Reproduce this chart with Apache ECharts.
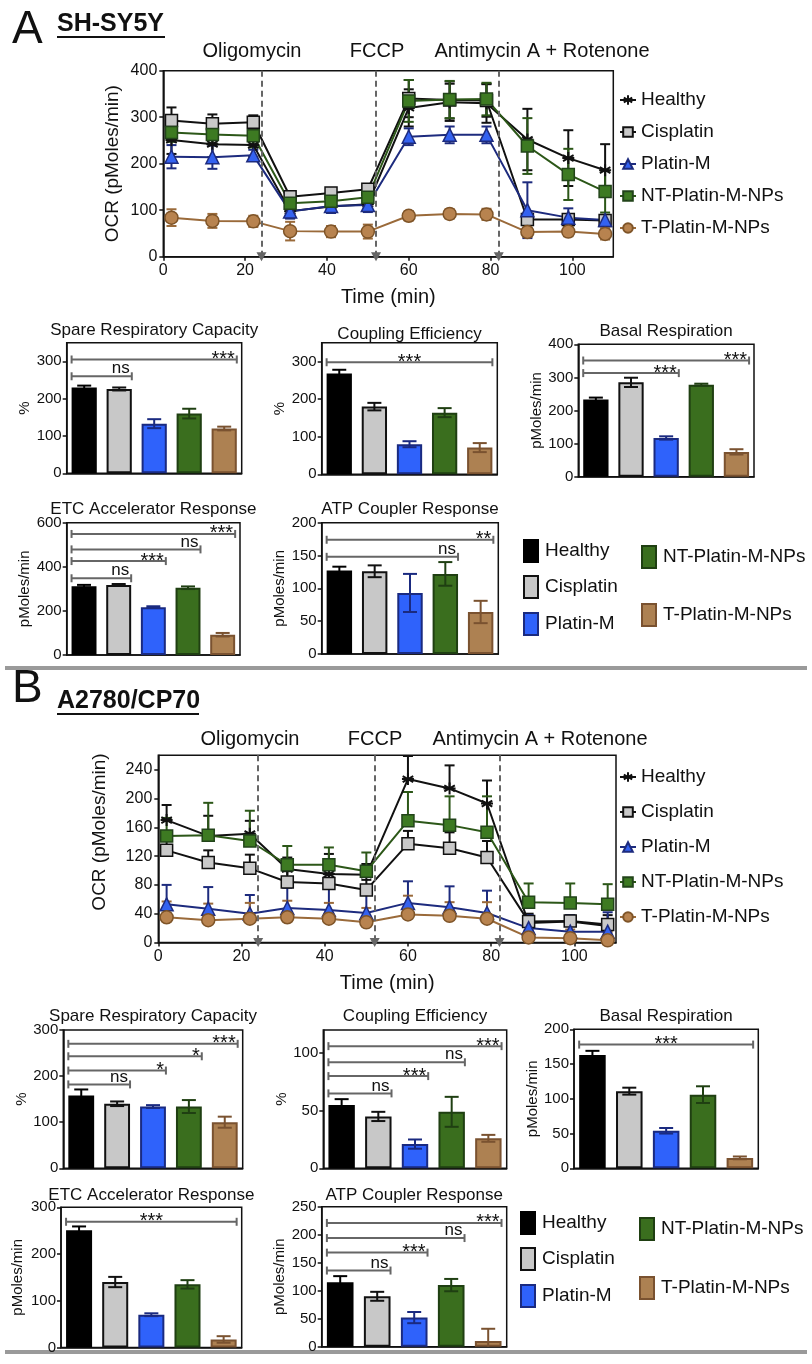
<!DOCTYPE html>
<html><head><meta charset="utf-8">
<script src="https://cdn.jsdelivr.net/npm/echarts@6/dist/echarts.min.js"></script>
<style>html,body{margin:0;padding:0;background:#fff}#c{width:812px;height:1364px}</style>
</head><body><div id="c"></div>
<script>
// ---------------- DATA ----------------
const groups = ['Healthy', 'Cisplatin', 'Platin-M', 'NT-Platin-M-NPs', 'T-Platin-M-NPs'];
const times = [2, 12, 22, 31, 41, 50, 60, 70, 79, 89, 99, 108];
const timeTicks = [0, 20, 40, 60, 80, 100];
const injections = [24, 52, 82];
const injectionLabels = ['Oligomycin', 'FCCP', 'Antimycin A + Rotenone'];

// Panel A (SH-SY5Y) OCR
const ocrTicksA = [0, 100, 200, 300, 400];
const A_healthy = [251, 242, 240, 98, 108, 113, 320, 332, 330, 252, 212, 186];
const A_healthy_err = [30, 28, 25, 15, 12, 12, 40, 40, 42, 66, 60, 56];
const A_cis = [293, 286, 289, 129, 137, 145, 340, 337, 336, 80, 80, 78];
const A_cis_err = [28, 20, 15, 8, 8, 8, 40, 40, 35, 8, 6, 6];
const A_plat = [215, 214, 218, 97, 109, 111, 258, 262, 262, 100, 84, 79];
const A_plat_err = [25, 25, 12, 15, 15, 15, 18, 18, 18, 60, 20, 10];
const A_nt = [267, 263, 260, 115, 119, 128, 335, 338, 339, 238, 177, 140];
const A_nt_err = [20, 20, 25, 15, 15, 15, 45, 40, 35, 60, 55, 45];
const A_t = [84, 77, 76, 55, 54, 54, 88, 92, 91, 53, 54, 49];
const A_t_err = [18, 15, 12, 20, 12, 15, 10, 10, 12, 10, 10, 12];

// Panel B (A2780/CP70) OCR
const ocrTicksB = [0, 40, 80, 120, 160, 200, 240];
const B_healthy = [170, 148, 151, 102, 95, 94, 227, 214, 193, 27, 29, 23];
const B_healthy_err = [21, 28, 18, 16, 28, 15, 32, 32, 32, 13, 9, 15];
const B_cis = [128, 111, 103, 84, 82, 73, 137, 131, 118, 29, 30, 25];
const B_cis_err = [13, 17, 19, 15, 13, 14, 18, 22, 23, 6, 6, 6];
const B_plat = [53, 47, 40, 48, 45, 41, 55, 49, 41, 20, 15, 15];
const B_plat_err = [27, 30, 26, 28, 30, 28, 30, 29, 31, 18, 23, 27];
const B_nt = [148, 149, 141, 108, 108, 99, 169, 163, 153, 56, 55, 53];
const B_nt_err = [25, 45, 42, 26, 24, 26, 40, 40, 50, 26, 27, 28];
const B_t = [35, 31, 33, 35, 33, 28, 39, 37, 33, 7, 6, 3];
const B_t_err = [22, 23, 22, 23, 22, 20, 26, 19, 23, 10, 12, 12];

// Bar panels: values, errors, significance [from, to, level, label], y ticks
const A_src = [230, 226, 133, 160, 120], A_src_err = [5, 4, 12, 13, 5];
const A_src_sig = [[0, 1, 260, 'ns'], [0, 4, 305, '***']];
const A_src_ticks = [0, 100, 200, 300];
const A_ce = [268, 180, 80, 164, 71], A_ce_err = [10, 10, 8, 12, 12];
const A_ce_sig = [[0, 4, 298, '***']];
const A_ce_ticks = [0, 100, 200, 300];
const A_basal = [233, 285, 117, 278, 75], A_basal_err = [6, 14, 5, 3, 8];
const A_basal_sig = [[0, 2, 313, '***'], [0, 4, 351, '***']];
const A_basal_ticks = [0, 100, 200, 300, 400];
const A_etc = [312, 318, 217, 305, 92], A_etc_err = [6, 4, 4, 6, 8];
const A_etc_sig = [[0, 1, 348, 'ns'], [0, 2, 426, '***'], [0, 3, 479, 'ns'], [0, 4, 549, '***']];
const A_etc_ticks = [0, 200, 400, 600];
const A_atp = [127, 126, 93, 122, 64], A_atp_err = [6, 9, 29, 18, 17];
const A_atp_sig = [[0, 3, 148, 'ns'], [0, 4, 174, '**']];
const A_atp_ticks = [0, 50, 100, 150, 200];

const B_src = [158, 140, 134, 134, 100], B_src_err = [13, 5, 3, 14, 12];
const B_src_sig = [[0, 1, 182, 'ns'], [0, 2, 212, '*'], [0, 3, 243, '*'], [0, 4, 270, '***']];
const B_src_ticks = [0, 100, 200, 300];
const B_ce = [55, 45, 21, 49, 26], B_ce_err = [5, 4, 4, 13, 3];
const B_ce_sig = [[0, 1, 65, 'ns'], [0, 2, 80, '***'], [0, 3, 92, 'ns'], [0, 4, 106, '***']];
const B_ce_ticks = [0, 50, 100];
const B_basal = [163, 111, 54, 106, 15], B_basal_err = [6, 5, 4, 12, 2];
const B_basal_sig = [[0, 4, 178, '***']];
const B_basal_ticks = [0, 50, 100, 150, 200];
const B_etc = [251, 140, 70, 135, 17], B_etc_err = [8, 11, 3, 9, 7];
const B_etc_sig = [[0, 4, 269, '***']];
const B_etc_ticks = [0, 100, 200, 300];
const B_atp = [115, 90, 52, 110, 10], B_atp_err = [11, 8, 10, 11, 22];
const B_atp_sig = [[0, 1, 136, 'ns'], [0, 2, 168, '***'], [0, 3, 194, 'ns'], [0, 4, 221, '***']];
const B_atp_ticks = [0, 50, 100, 150, 200, 250];

// ---------------- STYLE ----------------
const FONT = '"Liberation Sans", Arial, Helvetica, sans-serif';
const INK = '#111';
const ASTERISK = 'path://M5,0L5,10M0.6,2.5L9.4,7.5M9.4,2.5L0.6,7.5M0,5L10,5';
const lineColor = ['#111', '#111', '#1d2b7e', '#2c5718', '#9a6a3a'];
const symFill = ['#111', '#c9c9c9', '#3462f0', '#3d7a22', '#b8834f'];
const symEdge = ['#111', '#111', '#1d2b7e', '#22441a', '#7e5428'];
const symbols = [ASTERISK, 'rect', 'triangle', 'rect', 'circle'];
const symSize = [12, 12, 13, 12, 13];
const barFill = ['#000000', '#c8c8c8', '#2f62fb', '#3a6e1e', '#ad8152'];
const barEdge = ['#000000', '#111111', '#1a2a80', '#1f3f12', '#7a5230'];
const BAR_FRAC = 0.72;

const grids = [], xAxes = [], yAxes = [], series = [], graphics = [];

function addGrid(r) {
  grids.push({left: r[0], top: r[1], width: r[2], height: r[3], show: true,
    borderColor: INK, borderWidth: 1.5, containLabel: false, outerBoundsMode: 'none'});
  return grids.length - 1;
}
function axisBase() {
  return {axisLine: {show: true, onZero: false, lineStyle: {color: INK, width: 1.5}},
          splitLine: {show: false}};
}
function txt(text, x, y, size, opts) {
  opts = opts || {};
  return {type: 'text', x: x, y: y, rotation: opts.rotation || 0, silent: true,
    style: {text: text, fill: INK, fontSize: size, fontFamily: FONT, fontWeight: opts.weight || 'normal',
      align: opts.align || 'center', textAlign: opts.align || 'center',
      verticalAlign: opts.valign || 'middle', textVerticalAlign: opts.valign || 'middle'}};
}

function lineChart(rect, yMax, yTicks, vals, errs, errMode) {
  const g = addGrid(rect);
  xAxes.push(Object.assign(axisBase(), {gridIndex: g, type: 'value', min: 0, max: 110, interval: 20,
    axisTick: {show: true, length: 4, customValues: timeTicks, lineStyle: {color: INK, width: 1.5}},
    axisLabel: {customValues: timeTicks, fontSize: 16, color: INK, fontFamily: FONT, margin: 6},
    name: 'Time (min)', nameLocation: 'middle', nameGap: 31,
    nameTextStyle: {fontSize: 20, color: INK, fontFamily: FONT}}));
  yAxes.push(Object.assign(axisBase(), {gridIndex: g, type: 'value', min: 0, max: yMax,
    interval: yTicks[1] - yTicks[0],
    axisTick: {show: true, length: 4, customValues: yTicks, lineStyle: {color: INK, width: 1.5}},
    axisLabel: {customValues: yTicks, fontSize: 16, color: INK, fontFamily: FONT, margin: 6}}));
  // injection markers
  series.push({type: 'line', xAxisIndex: g, yAxisIndex: g, data: [], z: 1, silent: true,
    markLine: {silent: true, symbol: ['none', 'triangle'], symbolSize: [10, 9],
      label: {show: false}, lineStyle: {color: '#666', width: 2, type: [6, 4]},
      itemStyle: {color: '#666'},
      data: injections.map(x => [{coord: [x, yMax]}, {coord: [x, 0]}])}});
  vals.forEach((v, k) => {
    const col = lineColor[k];
    series.push({type: 'custom', xAxisIndex: g, yAxisIndex: g, z: 2, silent: true, clip: false,
      encode: {x: 0, y: 1},
      data: times.map((t, i) => [t, v[i], errs[k][i]]),
      renderItem: function (params, api) {
        const x = api.value(0), y = api.value(1), e = api.value(2);
        const top = api.coord([x, y + e]);
        const bot = api.coord([x, errMode === 'both' ? y - e : y]);
        const w = 5, st = {stroke: col, lineWidth: 2};
        const ch = [
          {type: 'line', shape: {x1: top[0], y1: top[1], x2: bot[0], y2: bot[1]}, style: st},
          {type: 'line', shape: {x1: top[0] - w, y1: top[1], x2: top[0] + w, y2: top[1]}, style: st}];
        if (errMode === 'both') ch.push({type: 'line', shape: {x1: bot[0] - w, y1: bot[1], x2: bot[0] + w, y2: bot[1]}, style: st});
        return {type: 'group', children: ch};
      }});
    series.push({type: 'line', name: groups[k], xAxisIndex: g, yAxisIndex: g, z: 3,
      data: times.map((t, i) => [t, v[i]]),
      symbol: symbols[k], symbolSize: symSize[k], showAllSymbol: true,
      lineStyle: {color: col, width: 2},
      itemStyle: {color: symFill[k], borderColor: symEdge[k], borderWidth: k === 0 ? 2 : 1.5}});
  });
}

function barChart(rect, ticks, yMax, vals, errs, sig, title, titleY, yName, nameGap) {
  const g = addGrid(rect);
  xAxes.push(Object.assign(axisBase(), {gridIndex: g, type: 'category', data: groups,
    axisTick: {show: false}, axisLabel: {show: false}}));
  yAxes.push(Object.assign(axisBase(), {gridIndex: g, type: 'value', min: 0, max: yMax,
    interval: ticks[1] - ticks[0],
    axisTick: {show: true, length: 4, customValues: ticks, lineStyle: {color: INK, width: 1.5}},
    axisLabel: {customValues: ticks, fontSize: 15, color: INK, fontFamily: FONT, margin: 5},
    name: yName, nameLocation: 'middle', nameGap: nameGap,
    nameTextStyle: {fontSize: 15, color: INK, fontFamily: FONT}}));
  series.push({type: 'bar', xAxisIndex: g, yAxisIndex: g, barWidth: (BAR_FRAC * 100) + '%', z: 2, silent: true,
    data: vals.map((v, i) => ({value: v, itemStyle: {color: barFill[i], borderColor: barEdge[i], borderWidth: 2}}))});
  series.push({type: 'custom', xAxisIndex: g, yAxisIndex: g, z: 3, silent: true, clip: false,
    encode: {x: 0, y: 1},
    data: vals.map((v, i) => [i, v, errs[i]]),
    renderItem: function (params, api) {
      const i = api.value(0), v = api.value(1), e = api.value(2);
      const top = api.coord([i, v + e]), bot = api.coord([i, Math.max(v - e, 0)]);
      const w = 7, st = {stroke: barEdge[params.dataIndex], lineWidth: 2};
      const ch = [
        {type: 'line', shape: {x1: top[0], y1: top[1], x2: bot[0], y2: bot[1]}, style: st},
        {type: 'line', shape: {x1: top[0] - w, y1: top[1], x2: top[0] + w, y2: top[1]}, style: st}];
      if (v - e > 0) ch.push({type: 'line', shape: {x1: bot[0] - w, y1: bot[1], x2: bot[0] + w, y2: bot[1]}, style: st});
      return {type: 'group', children: ch};
    }});
  const single = sig.length === 1;
  series.push({type: 'custom', xAxisIndex: g, yAxisIndex: g, z: 4, silent: true, clip: false,
    encode: {x: 0, y: 1},
    data: sig.map(s => [s[0], s[2], s[1]]),
    renderItem: function (params, api) {
      const s = sig[params.dataIndex];
      const half = api.size([1, 0])[0] * BAR_FRAC / 2;
      const p1 = api.coord([s[0], s[2]]), p2 = api.coord([s[1], s[2]]);
      const x1 = p1[0] - half, x2 = p2[0] + half, y = p1[1];
      const st = {stroke: '#666', lineWidth: 2};
      const star = s[3].indexOf('*') >= 0;
      return {type: 'group', children: [
        {type: 'line', shape: {x1: x1, y1: y, x2: x2, y2: y}, style: st},
        {type: 'line', shape: {x1: x1, y1: y - 4, x2: x1, y2: y + 4}, style: st},
        {type: 'line', shape: {x1: x2, y1: y - 4, x2: x2, y2: y + 4}, style: st},
        {type: 'text', style: {text: s[3], x: single ? (x1 + x2) / 2 : x2 - 2, y: y + (star ? 10 : 1),
          align: single ? 'center' : 'right', verticalAlign: 'bottom',
          fontSize: star ? 20 : 17, fontFamily: FONT, fill: INK}}]};
    }});
  graphics.push(txt(title, rect[0] + rect[2] / 2, titleY, 17));
}

// ---------------- LAYOUT ----------------
lineChart([163.3, 70.7, 450, 186], 400, ocrTicksA,
  [A_healthy, A_cis, A_plat, A_nt, A_t], [A_healthy_err, A_cis_err, A_plat_err, A_nt_err, A_t_err], 'both');
lineChart([158.3, 755.3, 457.7, 187.2], 260, ocrTicksB,
  [B_healthy, B_cis, B_plat, B_nt, B_t], [B_healthy_err, B_cis_err, B_plat_err, B_nt_err, B_t_err], 'up');

barChart([66.7, 342.7, 175, 130.6], A_src_ticks, 350, A_src, A_src_err, A_src_sig, 'Spare Respiratory Capacity', 330, '%', 34);
barChart([321.7, 342.7, 175.6, 131.6], A_ce_ticks, 350, A_ce, A_ce_err, A_ce_sig, 'Coupling Efficiency', 334, '%', 31);
barChart([578.3, 344.3, 175.7, 132.4], A_basal_ticks, 400, A_basal, A_basal_err, A_basal_sig, 'Basal Respiration', 331, 'pMoles/min', 31);
barChart([66.7, 522.7, 173.3, 132.3], A_etc_ticks, 600, A_etc, A_etc_err, A_etc_sig, 'ETC Accelerator Response', 509, 'pMoles/min', 34);
barChart([321.7, 522.7, 176.6, 131.3], A_atp_ticks, 200, A_atp, A_atp_err, A_atp_sig, 'ATP Coupler Response', 509, 'pMoles/min', 30);

barChart([63.3, 1030, 179.4, 138.3], B_src_ticks, 300, B_src, B_src_err, B_src_sig, 'Spare Respiratory Capacity', 1016, '%', 34);
barChart([323.3, 1030, 183.4, 138.3], B_ce_ticks, 120, B_ce, B_ce_err, B_ce_sig, 'Coupling Efficiency', 1016, '%', 33);
barChart([574, 1029.3, 184.3, 139], B_basal_ticks, 200, B_basal, B_basal_err, B_basal_sig, 'Basal Respiration', 1016, 'pMoles/min', 32);
barChart([61, 1207.3, 180.7, 140.1], B_etc_ticks, 300, B_etc, B_etc_err, B_etc_sig, 'ETC Accelerator Response', 1195, 'pMoles/min', 36);
barChart([321.7, 1206.7, 185, 140], B_atp_ticks, 250, B_atp, B_atp_err, B_atp_sig, 'ATP Coupler Response', 1195, 'pMoles/min', 33);

// Panel headings
graphics.push(txt('A', 12, 30, 46, {align: 'left'}));
graphics.push(txt('SH-SY5Y', 57, 24, 25, {align: 'left', weight: 'bold'}));
graphics.push({type: 'line', silent: true, shape: {x1: 57, y1: 37, x2: 165, y2: 37}, style: {stroke: INK, lineWidth: 2}});
graphics.push(txt('B', 12, 689, 46, {align: 'left'}));
graphics.push(txt('A2780/CP70', 57, 701, 25, {align: 'left', weight: 'bold'}));
graphics.push({type: 'line', silent: true, shape: {x1: 57, y1: 714, x2: 199, y2: 714}, style: {stroke: INK, lineWidth: 2}});

// injection labels
const injLabelX = [252, 377, 542];
injectionLabels.forEach((t, i) => {
  graphics.push(txt(t, injLabelX[i], 51, 20));
  graphics.push(txt(t, injLabelX[i] - 2, 739, 20));
});
// line chart y titles
graphics.push(txt('OCR (pMoles/min)', 113, 163.7, 19, {rotation: Math.PI / 2}));
graphics.push(txt('OCR (pMoles/min)', 100, 832, 19, {rotation: Math.PI / 2}));

// bar legends
const barLegendPos = [
  [[524, 551], [524, 587], [524, 624], [642, 557], [642, 615]],
  [[521, 1223], [521, 1259], [521, 1296], [640, 1229], [640, 1288]]];
barLegendPos.forEach(pos => {
  groups.forEach((name, i) => {
    const p = pos[i];
    graphics.push({type: 'rect', silent: true, shape: {x: p[0], y: p[1] - 11, width: 14, height: 22},
      style: {fill: barFill[i], stroke: barEdge[i], lineWidth: 2}});
    graphics.push(txt(name, p[0] + 21, p[1], 19, {align: 'left'}));
  });
});

// separators
[668, 1352].forEach(y => graphics.push({type: 'rect', silent: true,
  shape: {x: 5, y: y - 2, width: 802, height: 4}, style: {fill: '#9a9a9a'}}));

const option = {
  animation: false,
  backgroundColor: '#fff',
  textStyle: {fontFamily: FONT},
  grid: grids, xAxis: xAxes, yAxis: yAxes, series: series,
  legend: [
    {orient: 'vertical', left: 619, top: 90, padding: 0, data: groups, itemWidth: 16, itemHeight: 12, itemGap: 12,
      selectedMode: false, textStyle: {fontSize: 19, color: INK, fontFamily: FONT, lineHeight: 20}},
    {orient: 'vertical', left: 619, top: 767, padding: 0, data: groups, itemWidth: 16, itemHeight: 12, itemGap: 15,
      selectedMode: false, textStyle: {fontSize: 19, color: INK, fontFamily: FONT, lineHeight: 20}}],
  graphic: graphics
};
const chart = echarts.init(document.getElementById('c'), null, {renderer: 'canvas'});
chart.setOption(option);
</script></body></html>
